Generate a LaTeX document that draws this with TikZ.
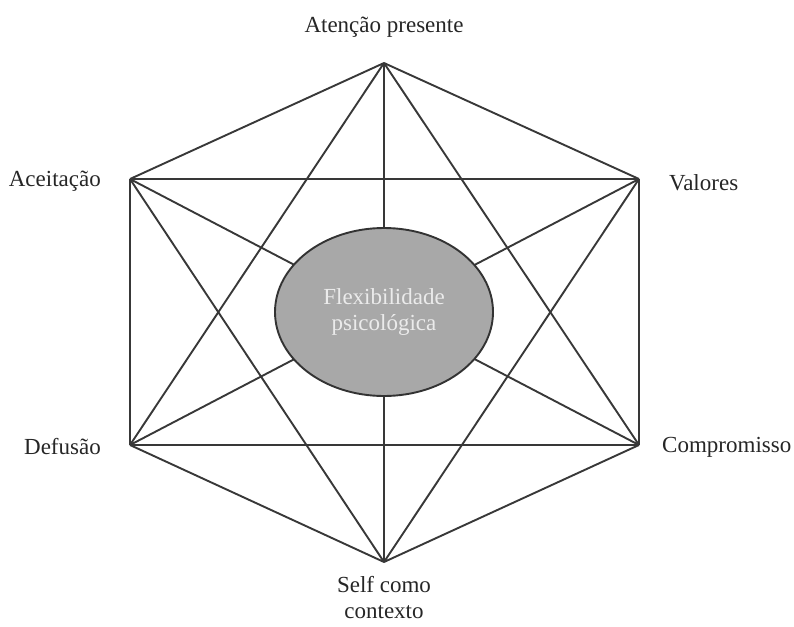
\documentclass[tikz,border=0pt]{standalone}
\usepackage{fontspec}
\setmainfont{Liberation Serif}
\usetikzlibrary{shapes.geometric}
\begin{document}
\begin{tikzpicture}[x=1pt,y=-1pt,
  edge/.style={draw=black!78,line width=1.9pt,line join=miter},
  lbl/.style={font=\fontsize{23}{26}\selectfont,text=black!85,inner sep=0pt,align=center},
  core/.style={ellipse,draw=black!80,line width=1.9pt,fill=black!34,minimum width=218pt,minimum height=168pt,inner sep=0pt,
    font=\fontsize{23}{26}\selectfont,text=white!92!black,align=center}]
\useasboundingbox (0,0) rectangle (794,626);
\coordinate (T) at (384,63);
\coordinate (UL) at (130,179);
\coordinate (UR) at (639,179);
\coordinate (LL) at (130,445);
\coordinate (LR) at (639,445);
\coordinate (B) at (384,562);
% complete graph
\foreach \a/\b in {T/UL,T/UR,T/LL,T/LR,T/B,UL/UR,UL/LL,UL/LR,UL/B,UR/LL,UR/LR,UR/B,LL/LR,LL/B,LR/B}
  \draw[edge] (\a) -- (\b);
\node[core] (flex) at (384,312) {Flexibilidade\\psicológica};
\node[lbl] (lT) at (384,27) {Atenção presente};
\node[lbl,anchor=east] (lUL) at (101,181) {Aceitação};
\node[lbl,anchor=west] (lUR) at (669,183) {Valores};
\node[lbl,anchor=east] (lLL) at (101,447) {Defusão};
\node[lbl,anchor=west] (lLR) at (662,447) {Compromisso};
\node[lbl] (lB) at (384,598) {Self como\\contexto};
\end{tikzpicture}
\end{document}
